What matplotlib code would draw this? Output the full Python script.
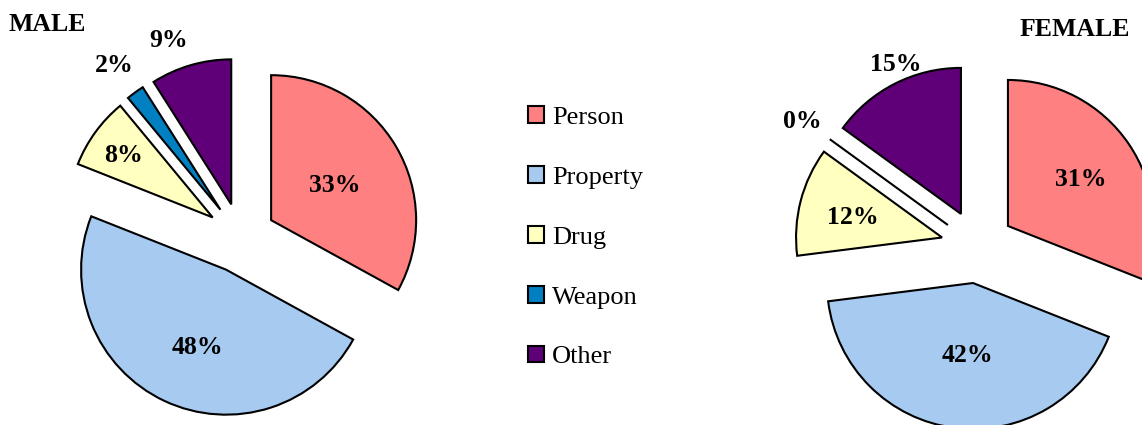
import matplotlib
matplotlib.use("Agg")
import matplotlib.pyplot as plt
from matplotlib.patches import Patch
import numpy as np

categories = ["Person", "Property", "Drug", "Weapon", "Other"]
male_values = [33, 48, 8, 2, 9]
female_values = [31, 42, 12, 0, 15]
colors = ["#FF8080", "#A6CAF0", "#FFFFC0", "#0080C0", "#5F0078"]

W, H = 1142, 425
fig = plt.figure(figsize=(W / 100, H / 100), dpi=100)
ax = fig.add_axes([0, 0, 1, 1])

serif = ["Liberation Serif", "DejaVu Serif"]


def draw_pie(values, center, radius, explode_dist, label_factors, label_turns):
    wedges, _ = ax.pie(values, colors=colors, startangle=90, counterclock=False,
                       explode=[explode_dist] * len(values), center=center,
                       radius=radius, normalize=True,
                       wedgeprops=dict(edgecolor="black", linewidth=1.5))
    for w, v, f, t in zip(wedges, values, label_factors, label_turns):
        ang = np.deg2rad((w.theta1 + w.theta2) / 2 + t)
        cx, cy = w.center
        x = cx + f * radius * np.cos(ang)
        y = cy + f * radius * np.sin(ang)
        ax.text(x, y, f"{v}%", ha="center", va="center_baseline", fontsize=18.5,
                fontweight="bold", family=serif)


draw_pie(male_values, (241, H - 238), 145, 35,
         [0.51, 0.555, 0.76, 1.25, 1.23], [0, 4, 0, 0, 4.5])
draw_pie(female_values, (977.6, H - 246.6), 146, 36.7,
         [0.60, 0.48, 0.63, 1.23, 1.13], [0, 3, 0, 0, -3.8])

ax.set_xlim(0, W)
ax.set_ylim(0, H)
ax.set_aspect("equal")
ax.axis("off")

ax.text(47, H - 22, "MALE", ha="center", va="center_baseline", fontsize=18.5,
        fontweight="bold", family=serif)
ax.text(1075, H - 27, "FEMALE", ha="center", va="center_baseline", fontsize=18.5,
        fontweight="bold", family=serif)

handles = [Patch(facecolor=c, edgecolor="black", linewidth=1.5) for c in colors]
leg = ax.legend(handles, categories, loc="center left",
                bbox_to_anchor=(528 / W, (H - 237.3) / H),
                bbox_transform=fig.transFigure, frameon=False,
                prop=dict(family=serif, size=19), handlelength=0.6,
                handleheight=0.6, handletextpad=0.3, labelspacing=1.41,
                borderpad=0, borderaxespad=0)

fig.savefig("out.png", dpi=100)
